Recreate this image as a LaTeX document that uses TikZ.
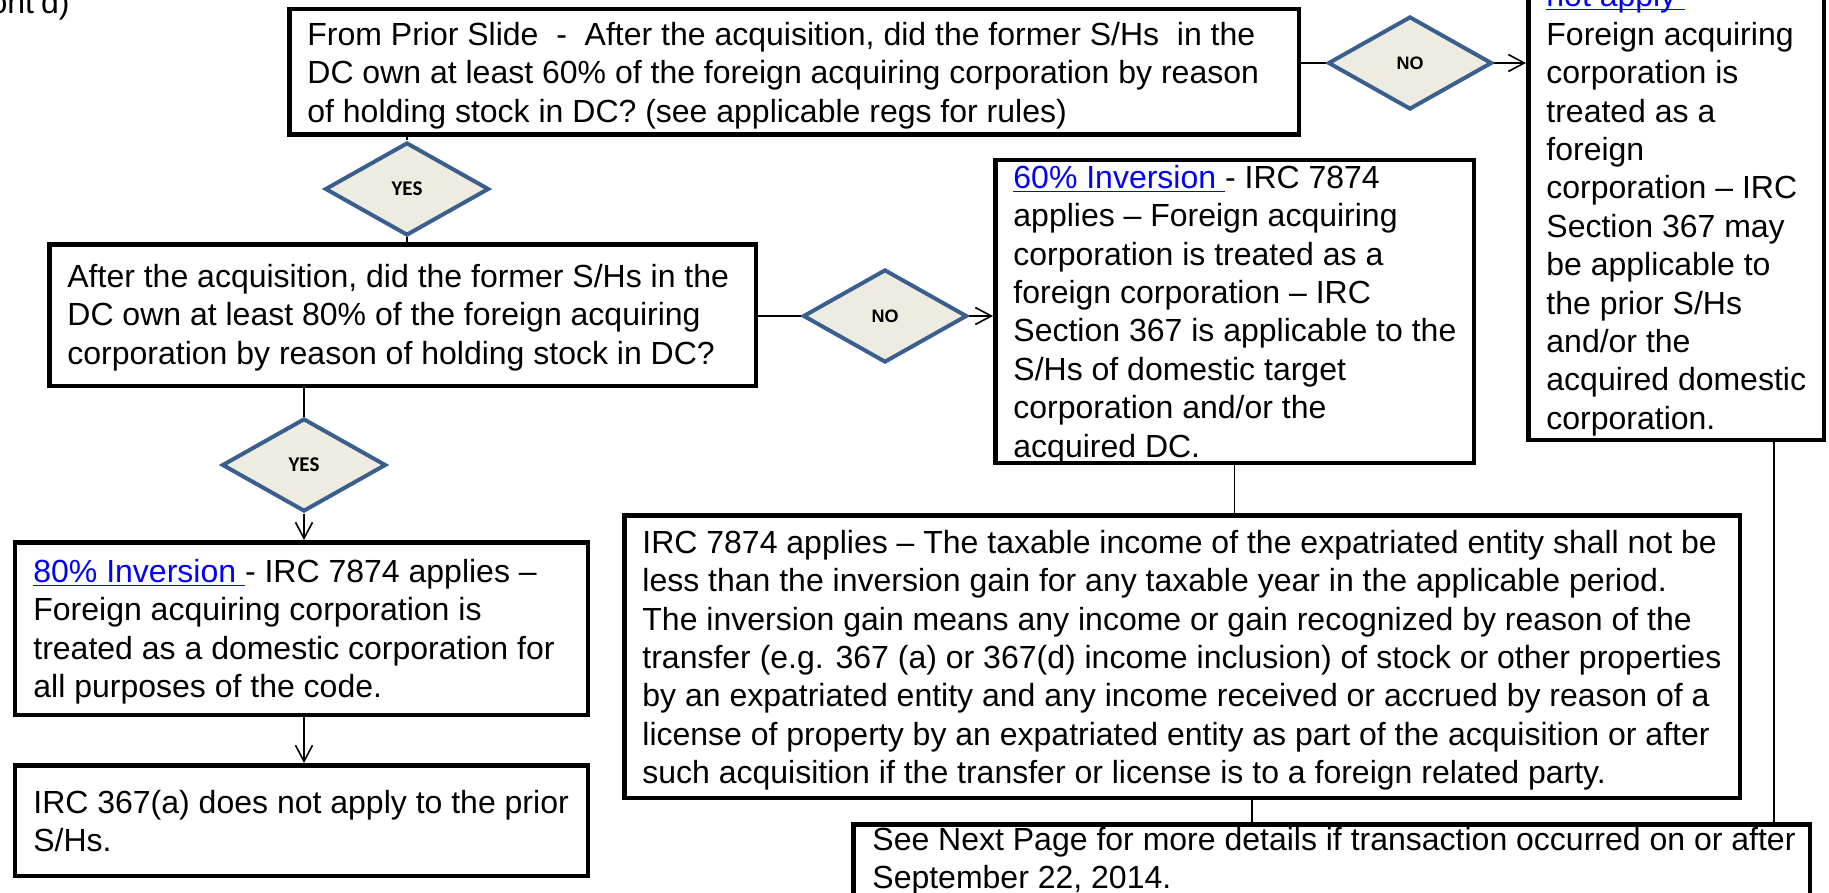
\documentclass[tikz,border=0pt]{standalone}
\usepackage{fontspec}
\setmainfont{Liberation Sans}
\newfontfamily\calibfont{Carlito}
\usetikzlibrary{shapes.geometric,arrows.meta}
\definecolor{dfill}{HTML}{EEECE1}
\definecolor{dline}{HTML}{3A5F8E}
\definecolor{linkblue}{HTML}{0000FF}
\newcommand\lnk[1]{\textcolor{linkblue}{\underline{\smash{#1}}}}
\begin{document}
\begin{tikzpicture}[x=0.5pt,y=-0.5pt,
  box/.style={draw=black, fill=white, line width=2.25pt, inner sep=0pt, rectangle},
  txt/.style={anchor=north west, inner sep=0pt, align=left, font=\fontsize{16}{19.2}\selectfont},
  dia/.style={diamond, draw=dline, fill=dfill, line width=2pt, inner sep=0pt, minimum width=82pt, minimum height=46.5pt},
  conn/.style={draw=black, line width=0.8pt},
  arr/.style={conn, -{Straight Barb[length=8pt,width=8.5pt]}},
  nofont/.style={font=\fontsize{9}{10}\selectfont\bfseries},
  yesfont/.style={font=\calibfont\fontsize{10.5}{12}\selectfont\bfseries}]
\useasboundingbox (0,0) rectangle (1829,893);
\clip (0,0) rectangle (1829,893);

% boxes
\node[box, minimum width=504.75pt, minimum height=62.75pt] (top) at (794,72) {};
\node[box, minimum width=147.75pt, minimum height=248.75pt] (right) at (1676,191) {};
\node[box, minimum width=353.25pt, minimum height=70.75pt] (q80) at (402.5,315) {};
\node[box, minimum width=239.25pt, minimum height=151.25pt] (inv60) at (1234.5,311.5) {};
\node[box, minimum width=286.5pt, minimum height=86.25pt] (inv80) at (301.25,628.5) {};
\node[box, minimum width=286.5pt, minimum height=55.25pt] (no367) at (301.25,820.5) {};
\node[box, minimum width=557.75pt, minimum height=141.25pt] (gain) at (1182,656.5) {};
\node[box, minimum width=478.25pt, minimum height=46.75pt] (next) at (1331.5,871) {};

% diamonds
\node[dia, nofont] (no1) at (1410,63) {NO};
\node[dia, yesfont] (yes1) at (407,189) {YES};
\node[dia, nofont] (no2) at (885,316) {NO};
\node[dia, yesfont] (yes2) at (304,465) {YES};

% texts
\node[anchor=base east, inner sep=0pt, font=\fontsize{16}{19.2}\selectfont] (cont) at (70,14) {ont’d)};

\node[txt] (ttop) at (307,18.1) {\strut From Prior Slide\ \ -\ \ After the acquisition, did the former S/Hs\ \ in the\\
DC own at least 60\% of the foreign acquiring corporation by reason\\
of holding stock in DC? (see applicable regs for rules)};

\node[txt] (tright) at (1546,-20.3) {\strut\lnk{not apply\ }–\\
Foreign acquiring\\
corporation is\\
treated as a\\
foreign\\
corporation – IRC\\
Section 367 may\\
be applicable to\\
the prior S/Hs\\
and/or the\\
acquired domestic\\
corporation.};

\node[txt] (tq80) at (67,260.1) {\strut After the acquisition, did the former S/Hs in the\\
DC own at least 80\% of the foreign acquiring\\
corporation by reason of holding stock in DC?};

\node[txt] (tinv60) at (1013,161.1) {\strut\lnk{60\% Inversion\ }- IRC 7874\\
applies – Foreign acquiring\\
corporation is treated as a\\
foreign corporation – IRC\\
Section 367 is applicable to the\\
S/Hs of domestic target\\
corporation and/or the\\
acquired DC.};

\node[txt] (tinv80) at (33,555.1) {\strut\lnk{80\% Inversion\ }- IRC 7874 applies –\\
Foreign acquiring corporation is\\
treated as a domestic corporation for\\
all purposes of the code.};

\node[txt] (tno367) at (33,786.1) {\strut IRC 367(a) does not apply to the prior\\
S/Hs.};

\node[txt] (tgain) at (642,526.1) {\strut IRC 7874 applies – The taxable income of the expatriated entity shall not be\\
less than the inversion gain for any taxable year in the applicable period.\\
The inversion gain means any income or gain recognized by reason of the\\
transfer (e.g. 367 (a) or 367(d) income inclusion) of stock or other properties\\
by an expatriated entity and any income received or accrued by reason of a\\
license of property by an expatriated entity as part of the acquisition or after\\
such acquisition if the transfer or license is to a foreign related party.};

\node[txt] (tnext) at (872,823.1) {\strut See Next Page for more details if transaction occurred on or after\\
September 22, 2014.};

% connector x positions
\coordinate (xg) at (1252,0);
\coordinate (xr) at (1774,0);

% connectors
\draw[conn] (top.south -| yes1.north) -- (yes1.north);
\draw[conn] (yes1.south) -- (yes1.south |- q80.north);
\draw[conn] (top.east |- no1.west) -- (no1.west);
\draw[arr] (no1.east) -- (no1.east -| right.west);
\draw[conn] (q80.east |- no2.west) -- (no2.west);
\draw[arr] (no2.east) -- (no2.east -| inv60.west);
\draw[conn] (q80.south -| yes2.north) -- (yes2.north);
\draw[arr] (yes2.south) -- (yes2.south |- inv80.north);
\draw[arr] (inv80.south -| yes2.south) -- (no367.north -| yes2.south);
\draw[conn] (inv60.south) -- (inv60.south |- gain.north);
\draw[conn] (gain.south -| xg) -- (next.north -| xg);
\draw[conn] (right.south -| xr) -- (next.north -| xr);
\end{tikzpicture}
\end{document}
